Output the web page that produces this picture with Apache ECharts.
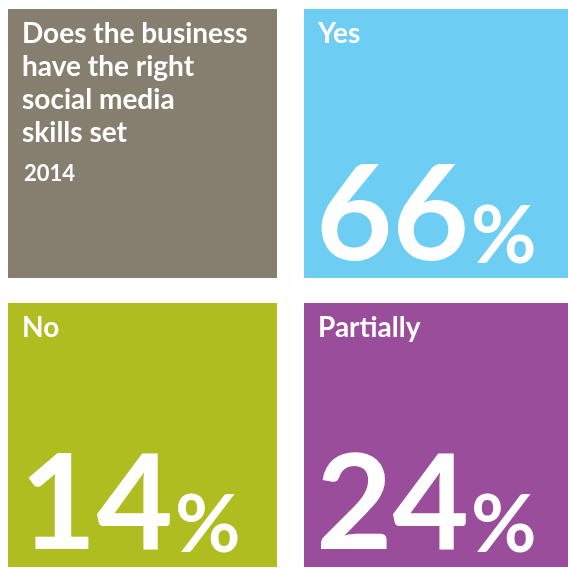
<!DOCTYPE html>
<html>
<head>
<meta charset="utf-8">
<script src="https://cdn.jsdelivr.net/npm/echarts@6/dist/echarts.min.js"></script>
<style>
  html, body { margin: 0; padding: 0; background: #fff; }
  #chart { width: 568px; height: 568px; }
</style>
</head>
<body>
<div id="chart"></div>
<script>
// grid of tiles
const xCats = ['left', 'right'];
const yCats = ['top', 'bottom'];

// one entry per tile
const tileNames = ['Does the business\nhave the right\nsocial media\nskills set', 'Yes', 'No', 'Partially'];
const tileCols = ['left', 'right', 'left', 'right'];
const tileRows = ['top', 'top', 'bottom', 'bottom'];
const tileValues = [null, 66, 14, 24];
const yearLabel = '2014';

const tileColors = ['#867E6F', '#6DCDF3', '#B0BD21', '#9A4D9B'];
const FONT = 'Lato, "Open Sans", sans-serif';

var chart = echarts.init(document.getElementById('chart'), null, { renderer: 'canvas' });

function renderItem(params, api) {
	const i = params.dataIndex;
	const col = api.value(0);
	const row = api.value(1);
	const c = api.coord([col, row]);
	const s = api.size([1, 1]);
	const bx = c[0] - s[0] / 2;
	const by = c[1] - s[1] / 2;
	// tiles are not quite centred in their band
	const x0 = col === 0 ? bx : bx + 16;
	const w = col === 0 ? s[0] - 11 : s[0] - 16;
	const y0 = row === 0 ? by : by + 15;
	const h = row === 0 ? s[1] - 10 : s[1] - 15;

	const children = [{
		type: 'rect',
		shape: { x: x0, y: y0, width: w, height: h },
		style: { fill: tileColors[i] }
	}, {
		type: 'text',
		x: x0 + 14,
		y: y0 + 8,
		style: {
			text: tileNames[i],
			fill: '#fff',
			fontFamily: FONT,
			fontWeight: 'bold',
			fontSize: 28,
			lineHeight: 33,
			verticalAlign: 'top'
		}
	}];

	const v = api.value(2);
	if (v == null || isNaN(v)) {
		// title tile gets the year
		children.push({
			type: 'text',
			x: x0 + 16,
			y: y0 + 154,
			style: {
				text: yearLabel,
				fill: '#fff',
				fontFamily: FONT,
				fontWeight: 'bold',
				fontSize: 22,
				verticalAlign: 'top'
			}
		});
	} else {
		children.push({
			type: 'text',
			x: x0 + 12,
			y: y0 + h + 5,
			style: {
				text: '{n|' + v + '}{p|%}',
				fill: '#fff',
				verticalAlign: 'bottom',
				rich: {
					n: { fontFamily: FONT, fontWeight: 'bold', fontSize: 132, fill: '#fff', verticalAlign: 'bottom', lineHeight: 132 },
					p: { fontFamily: FONT, fontWeight: 'bold', fontSize: 80, fill: '#fff', verticalAlign: 'bottom', lineHeight: 132, padding: [0, 0, 6, 2] }
				}
			}
		});
	}
	return { type: 'group', children: children };
}

var option = {
	animation: false,
	grid: { left: 8, right: 0, top: 9, bottom: 1, containLabel: false },
	xAxis: { type: 'category', data: xCats, show: false },
	yAxis: { type: 'category', data: yCats, show: false, inverse: true },
	series: [{
		type: 'custom',
		renderItem: renderItem,
		encode: { x: 0, y: 1 },
		data: tileNames.map((n, i) => [xCats.indexOf(tileCols[i]), yCats.indexOf(tileRows[i]), tileValues[i] == null ? '-' : tileValues[i]])
	}]
};
chart.setOption(option);
</script>
</body>
</html>
